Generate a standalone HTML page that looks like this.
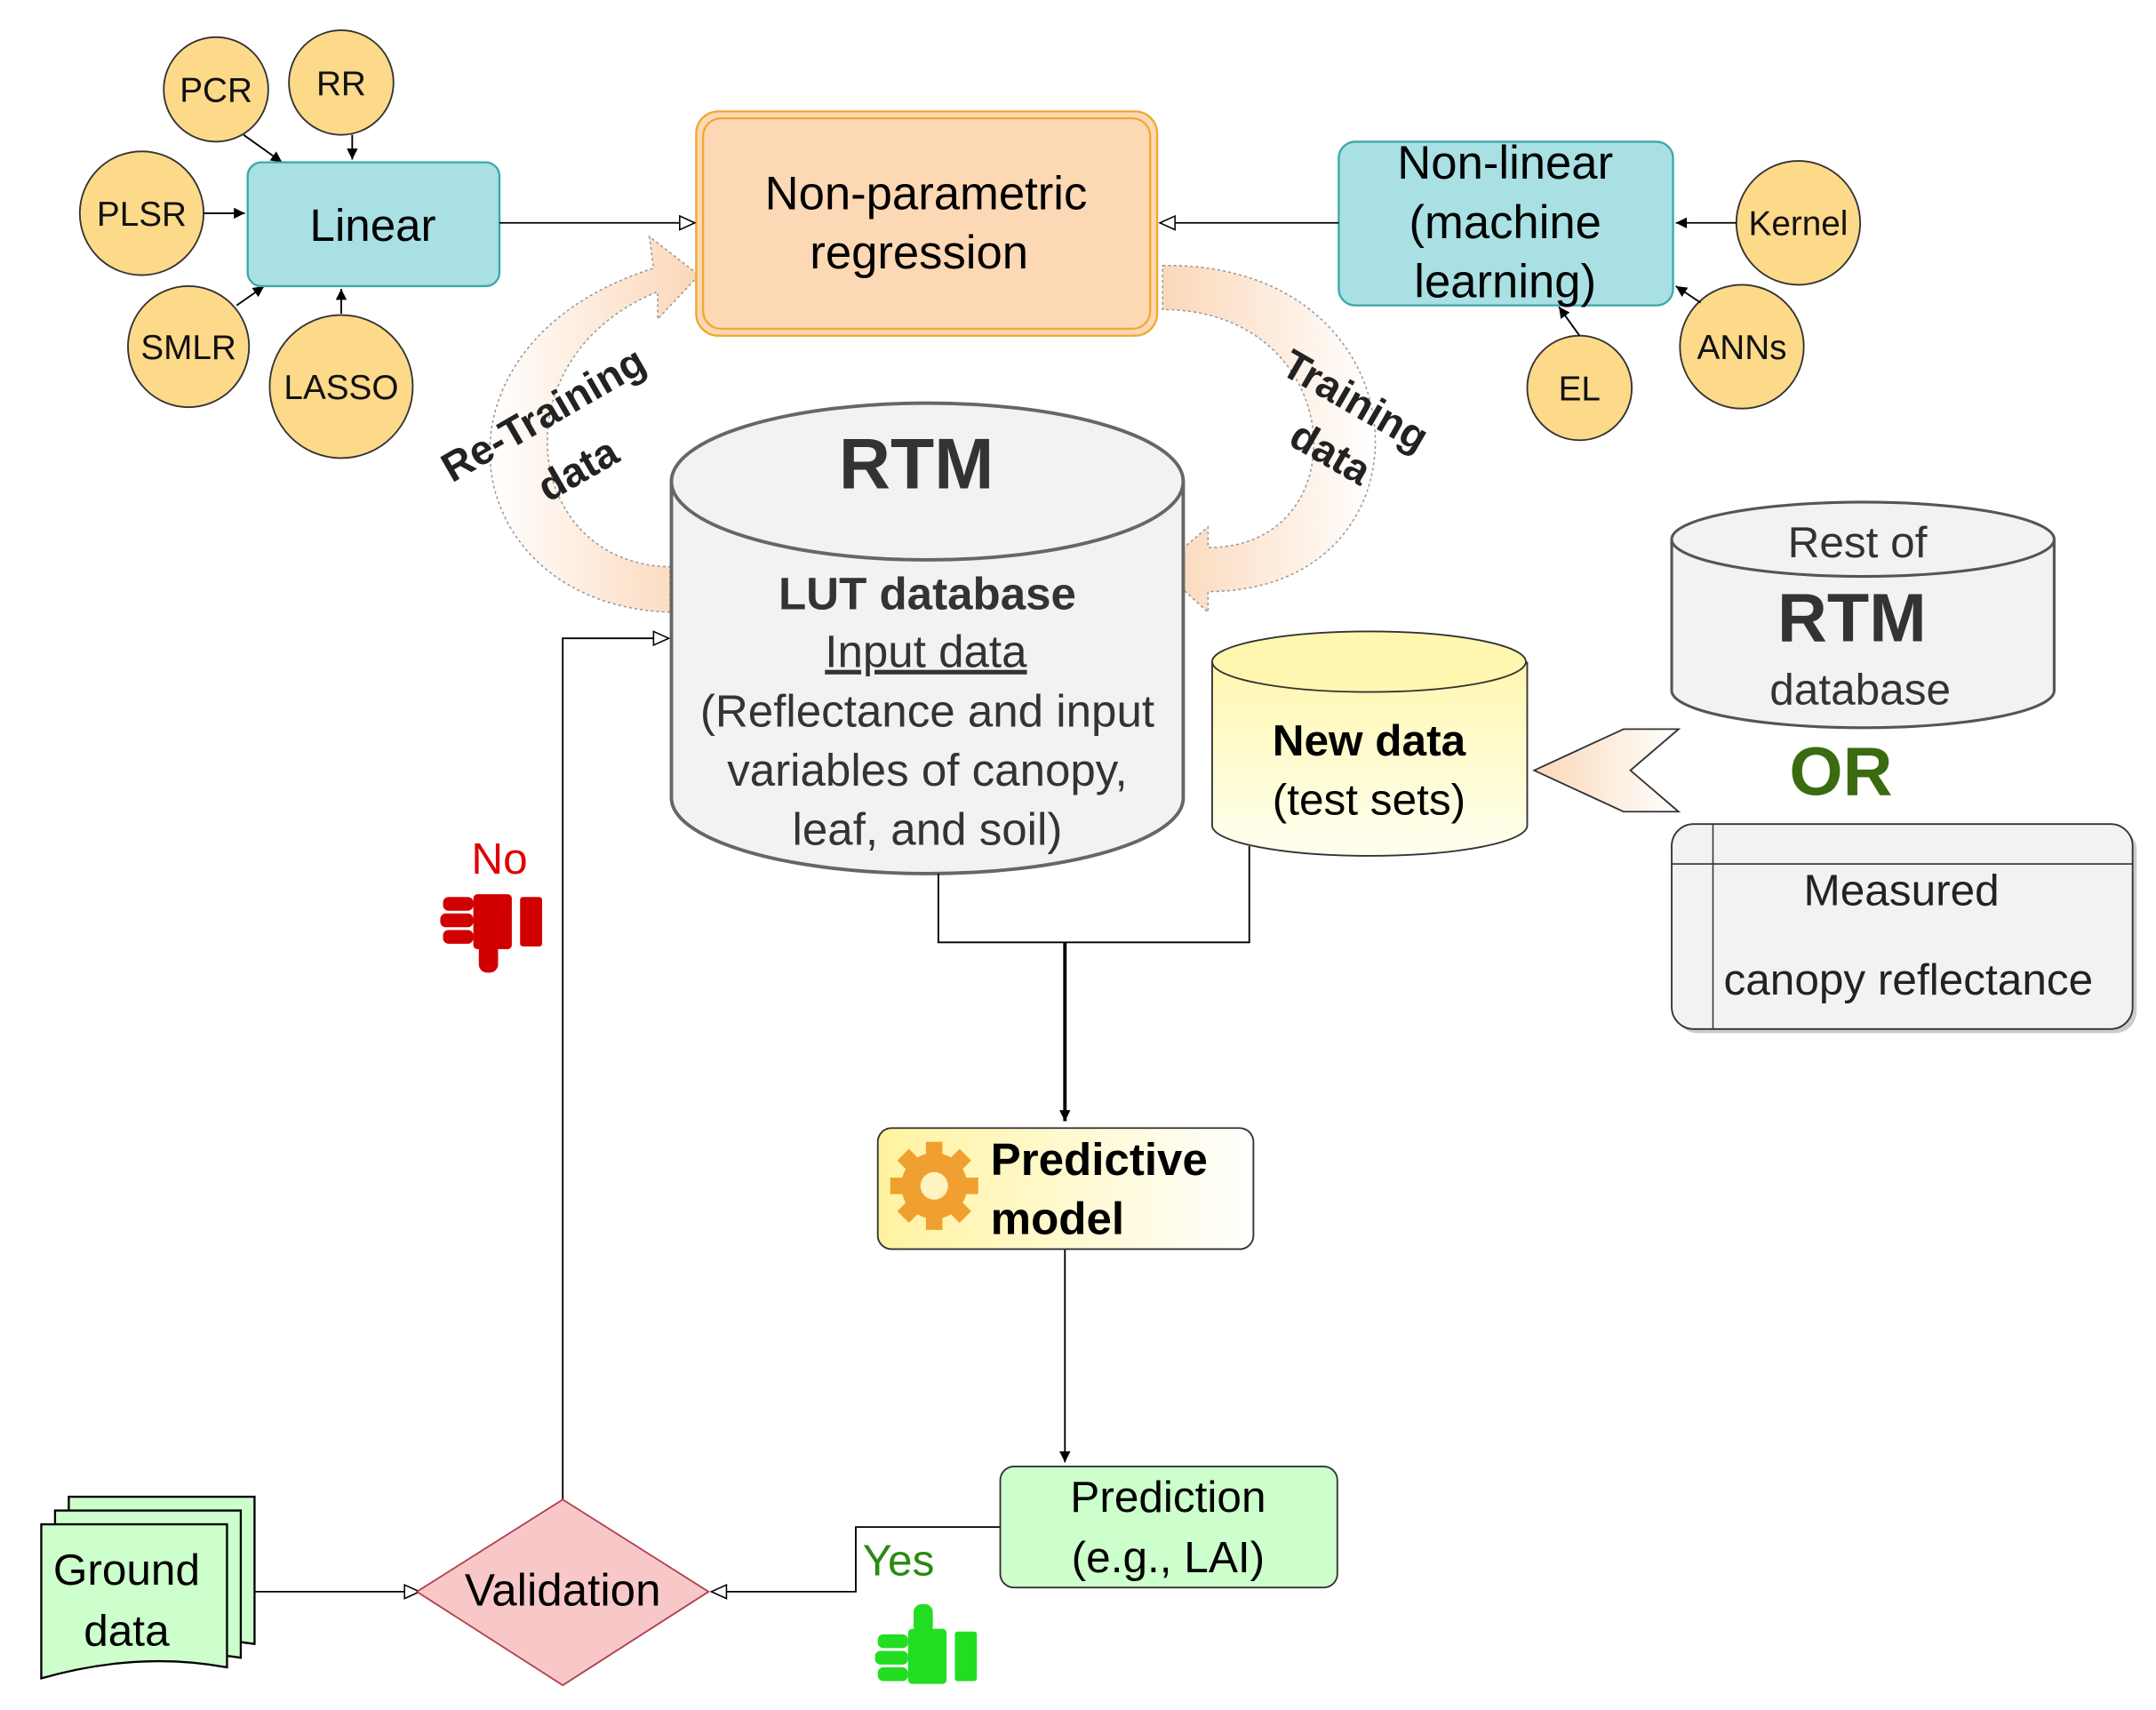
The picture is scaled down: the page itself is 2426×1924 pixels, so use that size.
<!DOCTYPE html>
<html><head><meta charset="utf-8"><style>
html,body{margin:0;padding:0;background:#fff;}
svg{display:block;font-family:"Liberation Sans",sans-serif;}
</style></head><body>
<svg width="2426" height="1924" viewBox="0 0 1567 1243" preserveAspectRatio="none" xmlns="http://www.w3.org/2000/svg">
<defs>
<marker id="fa" markerWidth="10" markerHeight="10" refX="9" refY="5" orient="auto" markerUnits="userSpaceOnUse"><path d="M1,1 L9,5 L1,9 z" fill="#000"/></marker>
<marker id="oa" markerWidth="14" markerHeight="12" refX="12" refY="6" orient="auto" markerUnits="userSpaceOnUse"><path d="M1,1 L12,6 L1,11 z" fill="#fff" stroke="#000"/></marker>
<linearGradient id="ny" x1="0" y1="0" x2="0" y2="1"><stop offset="0" stop-color="#fff7b0"/><stop offset="1" stop-color="#fffff0"/></linearGradient>
<linearGradient id="pm" x1="0" y1="0" x2="1" y2="0"><stop offset="0" stop-color="#fff3a0"/><stop offset="1" stop-color="#ffffff"/></linearGradient>
<linearGradient id="ca" x1="0" y1="0" x2="1" y2="0"><stop offset="0" stop-color="#fff"/><stop offset="1" stop-color="#fbd7b8"/></linearGradient>
<linearGradient id="cb" x1="0" y1="0" x2="1" y2="0"><stop offset="0" stop-color="#fbd7b8"/><stop offset="1" stop-color="#fff"/></linearGradient>
</defs>
<rect width="1567" height="1243" fill="#fff"/>

<path d="M487,445 C330,440 300,250 475,195 L472,172 L508,200 L478,232 L478,212 C360,260 380,410 487,412 Z" fill="url(#ca)" stroke="#999" stroke-dasharray="2,2"/>
<path d="M845,193 C1040,190 1050,430 878,430 L878,445 L843,413 L878,383 L878,398 C990,398 980,225 845,225 Z" fill="url(#cb)" stroke="#999" stroke-dasharray="2,2"/>
<text x="400" y="310" font-size="30" font-weight="bold" fill="#222" text-anchor="middle" transform="rotate(-30 400 310)">Re-Training</text>
<text x="425" y="350" font-size="30" font-weight="bold" fill="#222" text-anchor="middle" transform="rotate(-30 425 350)">data</text>
<text x="980" y="300" font-size="30" font-weight="bold" fill="#222" text-anchor="middle" transform="rotate(30 980 300)">Training</text>
<text x="962" y="338" font-size="30" font-weight="bold" fill="#222" text-anchor="middle" transform="rotate(30 962 338)">data</text>

<g fill="#fdd98a" stroke="#333" stroke-width="1.2">
<circle cx="157" cy="65" r="38"/><circle cx="248" cy="60" r="38"/><circle cx="103" cy="155" r="45"/>
<circle cx="137" cy="252" r="44"/><circle cx="248" cy="281" r="52"/>
<circle cx="1307" cy="162" r="45"/><circle cx="1266" cy="252" r="45"/><circle cx="1148" cy="282" r="38"/>
</g>
<g font-size="25" text-anchor="middle" fill="#111">
<text x="157" y="74">PCR</text><text x="248" y="69">RR</text><text x="103" y="164">PLSR</text>
<text x="137" y="261">SMLR</text><text x="248" y="290">LASSO</text>
<text x="1307" y="171">Kernel</text><text x="1266" y="261">ANNs</text><text x="1148" y="291">EL</text>
</g>
<g stroke="#000" stroke-width="1.2" marker-end="url(#fa)">
<line x1="177" y1="98" x2="205" y2="118"/><line x1="256" y1="98" x2="256" y2="116"/>
<line x1="148" y1="155" x2="178" y2="155"/><line x1="172" y1="222" x2="192" y2="208"/>
<line x1="248" y1="228" x2="248" y2="210"/>
<line x1="1262" y1="162" x2="1218" y2="162"/><line x1="1236" y1="220" x2="1218" y2="208"/>
<line x1="1148" y1="244" x2="1133" y2="223"/>
</g>

<rect x="180" y="118" width="183" height="90" rx="10" fill="#a8e0e4" stroke="#3aa8a8" stroke-width="1.5"/>
<text x="271" y="175" font-size="33" text-anchor="middle">Linear</text>
<rect x="506" y="81" width="335" height="163" rx="16" fill="#fcd8b4" stroke="#f0a830" stroke-width="1.5"/>
<rect x="511" y="86" width="325" height="153" rx="13" fill="none" stroke="#f0a830" stroke-width="1.5"/>
<text x="673" y="152" font-size="34" text-anchor="middle">Non-parametric</text>
<text x="668" y="195" font-size="34" text-anchor="middle">regression</text>
<rect x="973" y="103" width="243" height="119" rx="12" fill="#a8e0e4" stroke="#3aa8a8" stroke-width="1.5"/>
<text x="1094" y="130" font-size="34" text-anchor="middle">Non-linear</text>
<text x="1094" y="173" font-size="34" text-anchor="middle">(machine</text>
<text x="1094" y="216" font-size="34" text-anchor="middle">learning)</text>
<line x1="363" y1="162" x2="505" y2="162" stroke="#000" stroke-width="1.2" marker-end="url(#oa)"/>
<line x1="973" y1="162" x2="843" y2="162" stroke="#000" stroke-width="1.2" marker-end="url(#oa)"/>

<path d="M488,350 L488,580 A186,55 0 0 0 860,580 L860,350" fill="#f2f2f2" stroke="#666" stroke-width="2.5"/>
<ellipse cx="674" cy="350" rx="186" ry="57" fill="#f2f2f2" stroke="#666" stroke-width="2.5"/>
<text x="666" y="355" font-size="52" font-weight="bold" text-anchor="middle" fill="#333">RTM</text>
<text x="674" y="443" font-size="33" font-weight="bold" text-anchor="middle" fill="#333">LUT database</text>
<text x="673" y="485" font-size="33" text-anchor="middle" fill="#333" text-decoration="underline">Input data</text>
<text x="674" y="528" font-size="33" text-anchor="middle" fill="#333">(Reflectance and input</text>
<text x="674" y="571" font-size="33" text-anchor="middle" fill="#333">variables of canopy,</text>
<text x="674" y="614" font-size="33" text-anchor="middle" fill="#333">leaf, and soil)</text>

<path d="M881,481 L881,600 A114,22 0 0 0 1110,600 L1110,481" fill="url(#ny)" stroke="#333" stroke-width="1.2"/>
<ellipse cx="995" cy="481" rx="114" ry="22" fill="#fff7b0" stroke="#333" stroke-width="1.2"/>
<text x="995" y="549" font-size="32" font-weight="bold" text-anchor="middle">New data</text>
<text x="995" y="592" font-size="32" text-anchor="middle">(test sets)</text>

<path d="M1215,392 L1215,502 A139,27 0 0 0 1493,502 L1493,392" fill="#f2f2f2" stroke="#555" stroke-width="2"/>
<ellipse cx="1354" cy="392" rx="139" ry="27" fill="#f2f2f2" stroke="#555" stroke-width="2"/>
<text x="1350" y="405" font-size="32" text-anchor="middle" fill="#333">Rest of</text>
<text x="1346" y="466" font-size="50" font-weight="bold" text-anchor="middle" fill="#333">RTM</text>
<text x="1352" y="512" font-size="32" text-anchor="middle" fill="#333">database</text>
<text x="1338" y="578" font-size="50" font-weight="bold" text-anchor="middle" fill="#3a6b10">OR</text>
<path d="M1115,560 L1180,530 L1220,530 L1185,560 L1220,590 L1180,590 Z" fill="url(#cb)" stroke="#333" stroke-width="1.2"/>

<rect x="1218" y="602" width="335" height="149" rx="16" fill="#ccc"/>
<rect x="1215" y="599" width="335" height="149" rx="16" fill="#f2f2f2" stroke="#333" stroke-width="1.2"/>
<line x1="1245" y1="599" x2="1245" y2="748" stroke="#333"/>
<line x1="1215" y1="628" x2="1550" y2="628" stroke="#333"/>
<text x="1382" y="658" font-size="32" text-anchor="middle" fill="#222">Measured</text>
<text x="1387" y="723" font-size="32" text-anchor="middle" fill="#222">canopy reflectance</text>

<polyline points="682,635 682,685 908,685 908,615" fill="none" stroke="#000" stroke-width="1.2"/>
<line x1="774" y1="685" x2="774" y2="815" stroke="#000" stroke-width="2.5" marker-end="url(#fa)"/>
<line x1="774" y1="908" x2="774" y2="1063" stroke="#000" stroke-width="1.2" marker-end="url(#fa)"/>
<polyline points="727,1110 622,1110 622,1157 517,1157" fill="none" stroke="#000" stroke-width="1.2" marker-end="url(#oa)"/>
<line x1="185" y1="1157" x2="305" y2="1157" stroke="#000" stroke-width="1.2" marker-end="url(#oa)"/>
<polyline points="409,1090 409,464 486,464" fill="none" stroke="#000" stroke-width="1.2" marker-end="url(#oa)"/>

<rect x="638" y="820" width="273" height="88" rx="10" fill="url(#pm)" stroke="#333" stroke-width="1.2"/>
<g transform="translate(679,862)">
<circle r="24" fill="#f0a030"/>
<g fill="#f0a030"><rect x="-6" y="-32" width="12" height="64"/><rect x="-32" y="-6" width="64" height="12"/>
<rect x="-6" y="-32" width="12" height="64" transform="rotate(45)"/><rect x="-6" y="-32" width="12" height="64" transform="rotate(-45)"/></g>
<circle r="10" fill="#fff3c0"/></g>
<text x="720" y="854" font-size="33" font-weight="bold">Predictive</text>
<text x="720" y="897" font-size="33" font-weight="bold">model</text>

<rect x="727" y="1066" width="245" height="88" rx="10" fill="#ccffcc" stroke="#333" stroke-width="1.2"/>
<text x="849" y="1099" font-size="32" text-anchor="middle">Prediction</text>
<text x="849" y="1143" font-size="32" text-anchor="middle">(e.g., LAI)</text>

<path d="M409,1090 L515,1157 L409,1225 L303,1157 Z" fill="#f8c8c8" stroke="#b04050" stroke-width="1.2"/>
<text x="409" y="1167" font-size="33" text-anchor="middle">Validation</text>

<g stroke="#000" stroke-width="1.5" fill="#ccffcc">
<path d="M50,1088 L185,1088 L185,1195 Q120,1185 50,1205 Z"/>
<path d="M40,1098 L175,1098 L175,1205 Q110,1195 40,1215 Z"/>
<path d="M30,1108 L165,1108 L165,1212 Q100,1200 30,1220 Z"/>
</g>
<text x="92" y="1152" font-size="32" text-anchor="middle">Ground</text>
<text x="92" y="1196" font-size="32" text-anchor="middle">data</text>

<text x="653" y="1145" font-size="32" fill="#2a8a10" text-anchor="middle">Yes</text>
<text x="363" y="635" font-size="32" fill="#e00000" text-anchor="middle">No</text>
<g fill="#d00000">
<rect x="322" y="652" width="22" height="10" rx="4"/><rect x="320" y="664" width="24" height="10" rx="4"/><rect x="322" y="676" width="22" height="10" rx="4"/>
<rect x="344" y="650" width="28" height="40" rx="3"/><rect x="348" y="685" width="14" height="22" rx="6"/><rect x="378" y="652" width="16" height="36" rx="2"/>
</g>
<g fill="#22dd22">
<rect x="638" y="1188" width="22" height="10" rx="4"/><rect x="636" y="1200" width="24" height="10" rx="4"/><rect x="638" y="1212" width="22" height="10" rx="4"/>
<rect x="660" y="1184" width="28" height="40" rx="3"/><rect x="664" y="1166" width="14" height="22" rx="6"/><rect x="694" y="1186" width="16" height="36" rx="2"/>
</g>
</svg>
</body></html>
